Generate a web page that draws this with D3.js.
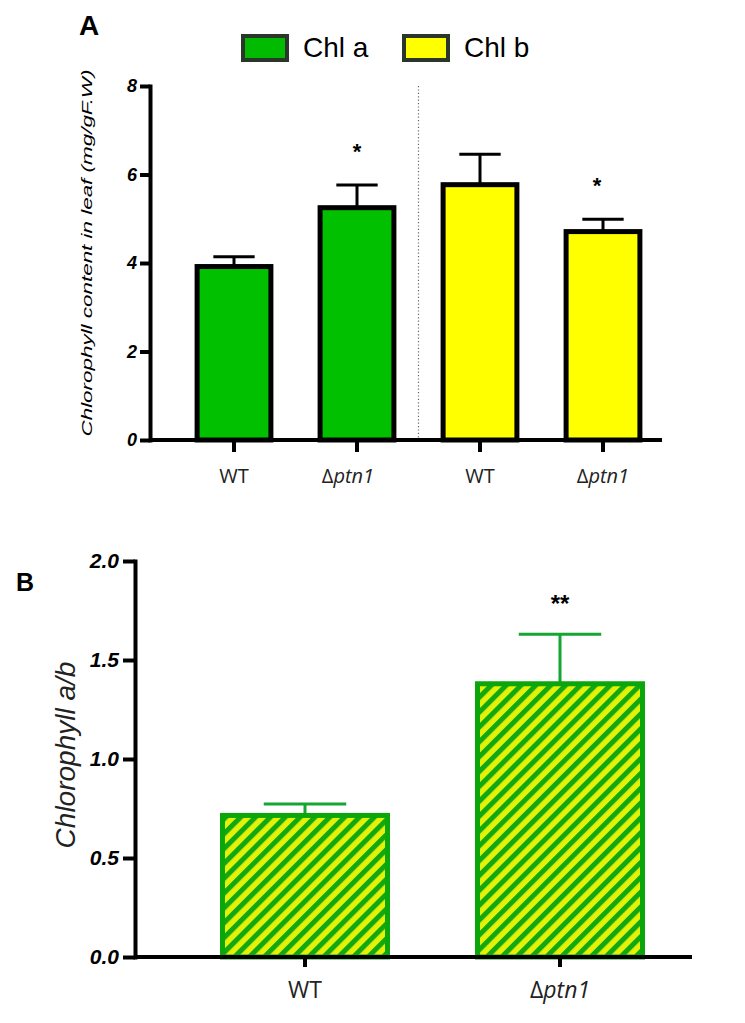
<!DOCTYPE html>
<html>
<head>
	<meta charset="utf-8">
	<title></title>
	<script src="https://d3js.org/d3.v7.min.js" charset="utf-8"></script>
	<style type="text/css">
		body {
			margin: 0;
			background-color: #ffffff;
		}
		svg text {
			font-family: 'Liberation Sans', Arial, sans-serif;
		}
		.lbl {
			font-family: 'Open Sans', sans-serif !important;
		}
	</style>
</head>
<body>
	<div id="chart"></div>

	<script type="text/javascript">

		// panel A
		var groupsA = ['WT', 'Δptn1', 'WT ', 'Δptn1 '];
		var meansA = [3.92, 5.25, 5.77, 4.71];
		var errA = [0.22, 0.51, 0.69, 0.28];
		var fillA = ['#00c000', '#00c000', '#ffff00', '#ffff00'];
		var starsA = ['', '*', '', '*'];
		var ticksA = [0, 2, 4, 6, 8];
		var legendNames = ['Chl a', 'Chl b'];
		var legendFill = ['#00bb00', '#ffff00'];

		// panel B
		var groupsB = ['WT', 'Δptn1'];
		var meansB = [0.715, 1.38];
		var errB = [0.058, 0.25];
		var starsB = ['', '**'];
		var ticksB = [0, 0.5, 1.0, 1.5, 2.0];

		var w = 745;
		var h = 1023;

		var svg = d3.select('#chart')
			.append('svg')
			.attr('width', w)
			.attr('height', h);

		var defs = svg.append('defs');
		var pat = defs.append('pattern')
			.attr('id', 'hatch')
			.attr('patternUnits', 'userSpaceOnUse')
			.attr('width', 10.5)
			.attr('height', 10.5)
			.attr('patternTransform', 'rotate(45)');
		pat.append('rect').attr('width', 10.5).attr('height', 10.5).attr('fill', '#e4f20a');
		pat.append('rect').attr('width', 5).attr('height', 10.5).attr('fill', '#12a812');

		// label with italic part (Δ + italic ptn1)
		function groupLabel(sel, name) {
			var n = name.trim();
			if (n.charAt(0) == 'Δ') {
				sel.append('tspan').text('Δ');
				sel.append('tspan').attr('font-style', 'italic').text(n.slice(1));
			} else {
				sel.text(n);
			}
		}

		// ---------- A ----------
		var xA = d3.scaleBand()
			.domain(groupsA)
			.range([172.5, 664.5])
			.paddingInner(0.4)
			.paddingOuter(0.2);
		var yA = d3.scaleLinear().domain([0, 8]).range([440, 86]);

		svg.append('text')
			.attr('x', 79).attr('y', 35)
			.attr('font-size', '28px').attr('font-weight', 'bold')
			.text('A');

		// legend
		var leg = svg.selectAll('.leg')
			.data(legendNames)
			.enter()
			.append('g')
			.attr('class', 'leg')
			.attr('transform', function(d, i) { return 'translate(' + (243 + i * 161) + ',36)'; });
		leg.append('rect')
			.attr('width', 44).attr('height', 24)
			.attr('fill', function(d, i) { return legendFill[i]; })
			.attr('stroke', '#2b352b').attr('stroke-width', 4);
		leg.append('text')
			.attr('x', 60).attr('y', 21)
			.attr('font-size', '28px')
			.text(function(d) { return d; });

		// separator
		svg.append('line')
			.attr('x1', (xA(groupsA[1]) + xA(groupsA[2]) + xA.bandwidth()) / 2)
			.attr('x2', (xA(groupsA[1]) + xA(groupsA[2]) + xA.bandwidth()) / 2)
			.attr('y1', yA(8)).attr('y2', yA(0))
			.attr('stroke', '#666').attr('stroke-width', 1.2)
			.attr('stroke-dasharray', '1.2,2.2');

		var barsA = svg.append('g');
		barsA.selectAll('line.err')
			.data(meansA)
			.enter()
			.append('line')
			.attr('x1', function(d, i) { return xA(groupsA[i]) + xA.bandwidth() / 2; })
			.attr('x2', function(d, i) { return xA(groupsA[i]) + xA.bandwidth() / 2; })
			.attr('y1', function(d) { return yA(d); })
			.attr('y2', function(d, i) { return yA(d + errA[i]); })
			.attr('stroke', '#000').attr('stroke-width', 3);
		barsA.selectAll('line.cap')
			.data(meansA)
			.enter()
			.append('line')
			.attr('x1', function(d, i) { return xA(groupsA[i]) + xA.bandwidth() * 0.22; })
			.attr('x2', function(d, i) { return xA(groupsA[i]) + xA.bandwidth() * 0.78; })
			.attr('y1', function(d, i) { return yA(d + errA[i]); })
			.attr('y2', function(d, i) { return yA(d + errA[i]); })
			.attr('stroke', '#000').attr('stroke-width', 3);
		barsA.selectAll('rect')
			.data(meansA)
			.enter()
			.append('rect')
			.attr('x', function(d, i) { return xA(groupsA[i]); })
			.attr('y', function(d) { return yA(d); })
			.attr('width', xA.bandwidth())
			.attr('height', function(d) { return yA(0) - yA(d); })
			.attr('fill', function(d, i) { return fillA[i]; })
			.attr('stroke', '#000').attr('stroke-width', 5);
		barsA.selectAll('text')
			.data(meansA)
			.enter()
			.append('text')
			.attr('x', function(d, i) { return xA(groupsA[i]) + xA.bandwidth() / 2 - (i == 3 ? 6 : 0); })
			.attr('y', function(d, i) { return yA(d + errA[i]) - 26; })
			.attr('text-anchor', 'middle')
			.attr('font-size', '22px').attr('font-weight', 'bold')
			.text(function(d, i) { return starsA[i]; });

		// axes A
		var axA = svg.append('g')
			.attr('transform', 'translate(150,0)')
			.call(d3.axisLeft(yA).tickValues(ticksA).tickSize(10).tickSizeOuter(0).tickPadding(3));
		axA.select('.domain').attr('stroke-width', 4).attr('stroke-linecap', 'square');
		axA.selectAll('.tick line').attr('stroke-width', 4);
		axA.selectAll('.tick text')
			.attr('font-size', '18px').attr('font-weight', 'bold').attr('font-style', 'italic')
			.attr('font-family', "'Liberation Sans', Arial, sans-serif");

		var bxA = svg.append('g')
			.attr('transform', 'translate(0,440)')
			.call(d3.axisBottom(xA).tickSize(12).tickSizeOuter(0).tickFormat(''));
		bxA.select('.domain').attr('d', 'M150,0H662').attr('stroke-width', 4);
		bxA.selectAll('.tick line').attr('stroke-width', 4);

		svg.selectAll('.xlA')
			.data(groupsA)
			.enter()
			.append('text')
			.attr('class', 'lbl')
			.attr('x', function(d, i) { return xA(d) + xA.bandwidth() / 2 - (i == 1 ? 9 : 0); })
			.attr('y', 483)
			.attr('text-anchor', 'middle')
			.attr('font-size', '20px')
			.attr('fill', '#222')
			.each(function(d) { groupLabel(d3.select(this), d); });

		svg.append('text')
			.attr('transform', 'translate(92,253) rotate(-90)')
			.attr('text-anchor', 'middle')
			.attr('font-size', '15px').attr('font-style', 'italic')
			.attr('textLength', 367).attr('lengthAdjust', 'spacingAndGlyphs')
			.text('Chlorophyll content in leaf (mg/gF.W)');

		// ---------- B ----------
		var xB = d3.scaleBand()
			.domain(groupsB)
			.range([177.5, 687.5])
			.paddingInner(0.353)
			.paddingOuter(0.1765);
		var yB = d3.scaleLinear().domain([0, 2]).range([957, 561]);

		svg.append('text')
			.attr('x', 16).attr('y', 591)
			.attr('font-size', '25px').attr('font-weight', 'bold')
			.text('B');

		var barsB = svg.append('g');
		barsB.selectAll('line.err')
			.data(meansB)
			.enter()
			.append('line')
			.attr('x1', function(d, i) { return xB(groupsB[i]) + xB.bandwidth() / 2; })
			.attr('x2', function(d, i) { return xB(groupsB[i]) + xB.bandwidth() / 2; })
			.attr('y1', function(d) { return yB(d); })
			.attr('y2', function(d, i) { return yB(d + errB[i]); })
			.attr('stroke', '#14a532').attr('stroke-width', 3);
		barsB.selectAll('line.cap')
			.data(meansB)
			.enter()
			.append('line')
			.attr('x1', function(d, i) { return xB(groupsB[i]) + xB.bandwidth() * 0.25; })
			.attr('x2', function(d, i) { return xB(groupsB[i]) + xB.bandwidth() * 0.75; })
			.attr('y1', function(d, i) { return yB(d + errB[i]); })
			.attr('y2', function(d, i) { return yB(d + errB[i]); })
			.attr('stroke', '#14a532').attr('stroke-width', 3);
		barsB.selectAll('rect')
			.data(meansB)
			.enter()
			.append('rect')
			.attr('x', function(d, i) { return xB(groupsB[i]); })
			.attr('y', function(d) { return yB(d); })
			.attr('width', xB.bandwidth())
			.attr('height', function(d) { return yB(0) - yB(d); })
			.attr('fill', 'url(#hatch)')
			.attr('stroke', '#0aa60a').attr('stroke-width', 5);
		barsB.selectAll('text')
			.data(meansB)
			.enter()
			.append('text')
			.attr('x', function(d, i) { return xB(groupsB[i]) + xB.bandwidth() / 2; })
			.attr('y', function(d, i) { return yB(d + errB[i]) - 22; })
			.attr('text-anchor', 'middle')
			.attr('font-size', '24px').attr('font-weight', 'bold')
			.text(function(d, i) { return starsB[i]; });

		var axB = svg.append('g')
			.attr('transform', 'translate(135,0)')
			.call(d3.axisLeft(yB).tickValues(ticksB).tickSize(12).tickSizeOuter(0).tickPadding(4)
				.tickFormat(d3.format('.1f')));
		axB.select('.domain').attr('stroke-width', 4).attr('stroke-linecap', 'square');
		axB.selectAll('.tick line').attr('stroke-width', 4);
		axB.selectAll('.tick text')
			.attr('font-size', '21px').attr('font-weight', 'bold').attr('font-style', 'italic')
			.attr('font-family', "'Liberation Sans', Arial, sans-serif");

		var bxB = svg.append('g')
			.attr('transform', 'translate(0,957)')
			.call(d3.axisBottom(xB).tickSize(10).tickSizeOuter(0).tickFormat(''));
		bxB.select('.domain').attr('d', 'M135,0H692').attr('stroke-width', 4);
		bxB.selectAll('.tick line').attr('stroke-width', 4);

		svg.selectAll('.xlB')
			.data(groupsB)
			.enter()
			.append('text')
			.attr('class', 'lbl')
			.attr('x', function(d) { return xB(d) + xB.bandwidth() / 2; })
			.attr('y', 998)
			.attr('text-anchor', 'middle')
			.attr('font-size', '23px')
			.attr('fill', '#222')
			.each(function(d) { groupLabel(d3.select(this), d); });

		svg.append('text')
			.attr('transform', 'translate(75,755) rotate(-90)')
			.attr('text-anchor', 'middle')
			.attr('font-size', '28px').attr('font-style', 'italic')
			.attr('fill', '#222')
			.text('Chlorophyll a/b');

	</script>
</body>
</html>
